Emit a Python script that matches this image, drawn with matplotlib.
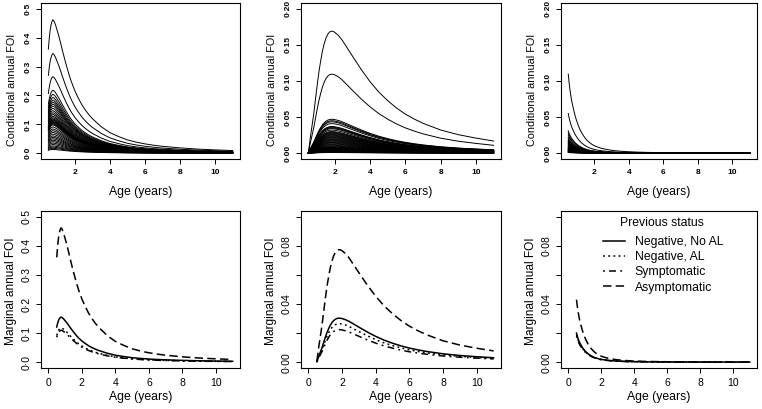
import matplotlib
matplotlib.use("Agg")
import matplotlib.pyplot as plt
from matplotlib.lines import Line2D

plt.rcParams["font.family"] = ["Liberation Sans", "DejaVu Sans"]

# ---------- data ----------
age = [0.5, 0.55, 0.6, 0.65, 0.7, 0.75, 0.8, 0.9, 1.0, 1.1, 1.2, 1.3, 1.4, 1.5,
       1.6, 1.7, 1.8, 1.9, 2.0, 2.2, 2.4, 2.6, 2.8, 3.0, 3.25, 3.5, 3.75, 4.0,
       4.5, 5.0, 5.5, 6.0, 6.5, 7.0, 8.0, 9.0, 10.0, 11.0]

# normalised age profile (peak = 1) of the FOI curves in each column
shape_left = [0.78, 0.86, 0.92, 0.96, 0.985, 1.0, 0.995, 0.965, 0.92, 0.875,
              0.825, 0.77, 0.72, 0.67, 0.625, 0.58, 0.54, 0.505, 0.47, 0.415,
              0.365, 0.325, 0.29, 0.26, 0.23, 0.20, 0.177, 0.155, 0.125, 0.10,
              0.083, 0.07, 0.06, 0.052, 0.04, 0.031, 0.025, 0.02]
shape_mid = [0.01, 0.06, 0.12, 0.17, 0.22, 0.27, 0.32, 0.44, 0.56, 0.67, 0.76,
             0.84, 0.90, 0.945, 0.975, 0.993, 1.0, 0.998, 0.99, 0.965, 0.93,
             0.885, 0.84, 0.795, 0.74, 0.685, 0.635, 0.585, 0.50, 0.43, 0.37,
             0.32, 0.28, 0.245, 0.19, 0.152, 0.124, 0.10]
shape_right = [1.0, 0.89, 0.80, 0.725, 0.66, 0.61, 0.56, 0.47, 0.40, 0.34, 0.29,
               0.25, 0.215, 0.185, 0.16, 0.14, 0.123, 0.108, 0.096, 0.078,
               0.064, 0.053, 0.045, 0.038, 0.031, 0.026, 0.022, 0.019, 0.014,
               0.011, 0.0085, 0.007, 0.006, 0.005, 0.004, 0.003, 0.0025, 0.002]

# peak height of every individual conditional curve (top row)
peaks_left = [0.462, 0.345, 0.265, 0.218, 0.204, 0.193, 0.184, 0.177, 0.170,
              0.163, 0.155, 0.147, 0.140, 0.134, 0.128, 0.123, 0.119, 0.116,
              0.113, 0.110, 0.107, 0.104, 0.101, 0.098, 0.091, 0.084, 0.078,
              0.072, 0.066, 0.060, 0.055, 0.050, 0.045, 0.040, 0.035, 0.030,
              0.025, 0.021, 0.017, 0.013]
peaks_mid = [0.169, 0.1095, 0.047, 0.045, 0.0435, 0.041, 0.037, 0.036, 0.035,
             0.034, 0.032, 0.030, 0.029, 0.028, 0.027, 0.026, 0.025, 0.024,
             0.023, 0.022, 0.021, 0.020, 0.019, 0.018, 0.017, 0.016, 0.015,
             0.014, 0.013, 0.012, 0.011, 0.010, 0.009, 0.0085, 0.008, 0.0075,
             0.007, 0.0065, 0.006, 0.0055, 0.005, 0.0045, 0.004, 0.0035, 0.003,
             0.0025, 0.002, 0.0015, 0.001]
peaks_right = [0.1095, 0.055, 0.031, 0.028, 0.025, 0.022, 0.020, 0.018, 0.017,
               0.016, 0.015, 0.014, 0.013, 0.012, 0.011, 0.010, 0.009, 0.008,
               0.0075, 0.007, 0.0065, 0.006, 0.0055, 0.005, 0.0045, 0.004,
               0.0035, 0.003, 0.0025, 0.002, 0.0015, 0.001]

# marginal FOI (bottom row): peak height by previous status
status = ["Negative, No AL", "Negative, AL", "Symptomatic", "Asymptomatic"]
marg_peaks_left = [0.155, 0.118, 0.110, 0.462]
marg_peaks_mid = [0.0303, 0.0265, 0.0224, 0.0774]
marg_peaks_right = [0.020, 0.019, 0.018, 0.043]

# tick labels (R style decimal point)
yt_half = [0.0, 0.1, 0.2, 0.3, 0.4, 0.5]
yl_half = ["0·0", "0·1", "0·2", "0·3", "0·4", "0·5"]
yt_fifth = [0.0, 0.05, 0.10, 0.15, 0.20]
yl_fifth = ["0·00", "0·05", "0·10", "0·15", "0·20"]
yt_tenth = [0.0, 0.02, 0.04, 0.06, 0.08, 0.10]
yl_tenth = ["0·00", "", "0·04", "", "0·08", ""]
xt_top = [2, 4, 6, 8, 10]
xt_bottom = [0, 2, 4, 6, 8, 10]

line_styles = {
    "Negative, No AL": "-",
    "Negative, AL": (0, (1.2, 2.2)),
    "Symptomatic": (0, (1.2, 2.8, 4.5, 2.8)),
    "Asymptomatic": (0, (5.5, 2.8)),
}

# ---------- layout ----------
W, H = 762, 409


def r_lim(lo, hi):
    d = (hi - lo) * 0.04
    return lo - d, hi + d


def px_axes(fig, x0, y0, x1, y1):
    return fig.add_axes([x0 / W, 1 - y1 / H, (x1 - x0) / W, (y1 - y0) / H])


def style_axes(ax, xt, yt, yl, tick_fs, tick_wt, ylab, ylab_fs, ylab_dx, ylab_y, xlab_y):
    ax.set_xticks(xt)
    ax.set_xticklabels([str(v) for v in xt], fontweight=tick_wt)
    ax.set_yticks(yt)
    ax.set_yticklabels(yl, fontweight=tick_wt)
    ax.tick_params(direction="out", length=3.5, width=0.7, labelsize=tick_fs)
    ax.tick_params(axis="x", pad=3.5)
    ax.tick_params(axis="y", pad=3)
    for lab in ax.get_yticklabels():
        lab.set_rotation(90)
        lab.set_va("center")
    for s in ax.spines.values():
        s.set_linewidth(0.8)
    w = ax.get_position().width * W
    ax.set_xlabel("Age (years)", fontsize=8.8)
    ax.xaxis.set_label_coords(0.5, xlab_y)
    ax.xaxis.label.set_va("center")
    ax.set_ylabel(ylab, fontsize=ylab_fs)
    ax.yaxis.set_label_coords(-ylab_dx / w, ylab_y)
    ax.yaxis.label.set_va("center")


fig = plt.figure(figsize=(W / 100, H / 100), dpi=100)

cols = [(41, 240), (301, 501), (561, 757)]
shapes = [shape_left, shape_mid, shape_right]
top_peaks = [peaks_left, peaks_mid, peaks_right]
top_ylims = [(0, 0.5), (0, 0.2), (0, 0.2)]
top_yticks = [(yt_half, yl_half), (yt_fifth, yl_fifth), (yt_fifth, yl_fifth)]

for i, (x0, x1) in enumerate(cols):
    ax = px_axes(fig, x0, 3, x1, 159)
    for pk in top_peaks[i]:
        ax.plot(age, [pk * v for v in shapes[i]], color="black", lw=0.7)
    ax.set_xlim(*r_lim(0.5, 11))
    ax.set_ylim(*r_lim(*top_ylims[i]))
    style_axes(ax, xt_top, top_yticks[i][0], top_yticks[i][1], 6, "bold",
               "Conditional annual FOI", 7.8, 29, 0.44, -0.21)

marg_peaks = [marg_peaks_left, marg_peaks_mid, marg_peaks_right]
bot_ylims = [(0, 0.5), (0, 0.1), (0, 0.1)]
bot_yticks = [(yt_half, yl_half), (yt_tenth, yl_tenth), (yt_tenth, yl_tenth)]

for i, (x0, x1) in enumerate(cols):
    ax = px_axes(fig, x0, 211, x1, 368)
    for st, pk in zip(status, marg_peaks[i]):
        ax.plot(age, [pk * v for v in shapes[i]], color="black", lw=1.1,
                linestyle=line_styles[st])
    ax.set_xlim(*r_lim(0, 11))
    ax.set_ylim(*r_lim(*bot_ylims[i]))
    style_axes(ax, xt_bottom, bot_yticks[i][0], bot_yticks[i][1], 7.5, "normal",
               "Marginal annual FOI", 8.6, 30, 0.49, -0.185)
    if i == 2:
        w = x1 - x0
        ax.text((662 - x0) / w, 1 - (223 - 211) / 157, "Previous status",
                transform=ax.transAxes, ha="center", va="center", fontsize=8.8)
        handles = [Line2D([], [], color="black", lw=1.1, linestyle=line_styles[st])
                   for st in status]
        ax.legend(handles, status, frameon=False,
                  loc="upper left", bbox_to_anchor=((603 - x0) / w, 1 - (236 - 211) / 157),
                  fontsize=8.8, handlelength=1.8,
                  handletextpad=0.8, labelspacing=0.26, borderpad=0,
                  borderaxespad=0)

fig.savefig("out.png", dpi=100)
